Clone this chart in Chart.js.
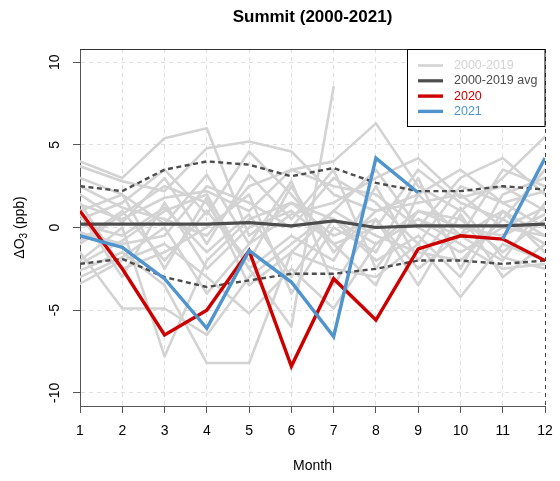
<!DOCTYPE html>
<html>
<head>
<meta charset="utf-8">
<script src="https://cdn.jsdelivr.net/npm/chart.js@4.4.0/dist/chart.umd.min.js"></script>
<style>
  html, body { margin: 0; padding: 0; background: #fff; }
  canvas { display: block; }
</style>
</head>
<body>
<canvas id="ozone" width="560" height="481"></canvas>
<script>
// months on the x axis
var months = [1, 2, 3, 4, 5, 6, 7, 8, 9, 10, 11, 12];
var yTicks = [-10, -5, 0, 5, 10];

// 2000-2019 climatology
var avgValues   = [0.2, 0.2, 0.2, 0.2, 0.3, 0.1, 0.4, 0.0, 0.1, 0.1, 0.1, 0.2];
var upperValues = [2.5, 2.2, 3.5, 4.0, 3.8, 3.1, 3.6, 2.7, 2.2, 2.2, 2.5, 2.3];
var lowerValues = [-2.2, -1.9, -3.0, -3.6, -3.2, -2.8, -2.8, -2.5, -2.0, -2.0, -2.2, -2.0];

// recent years
var values2020 = [1.0, -2.5, -6.5, -5.0, -1.4, -8.4, -3.1, -5.6, -1.3, -0.5, -0.7, -2.0];
var values2021 = [-0.5, -1.2, -3.1, -6.1, -1.4, -3.3, -6.6, 4.2, 2.1, null, -0.7, 4.2];

// individual years 2000-2019
var pastYears = [2000, 2001, 2002, 2003, 2004, 2005, 2006, 2007, 2008, 2009,
                 2010, 2011, 2012, 2013, 2014, 2015, 2016, 2017, 2018, 2019];
var pastValues = [
    [4.0, 3.0, 5.4, 6.0, -0.5, 1.5, 0.5, -1.0, 1.0, 0.5, -1.5, 0.5],
    [3.7, 2.8, 2.2, 4.8, 5.2, 4.6, 2.0, 1.0, 1.5, 2.0, 0.0, 1.2],
    [1.4, 0.5, 1.8, 2.2, 1.0, 3.5, 4.0, 6.3, 2.5, 1.0, 3.0, 5.5],
    [0.5, 1.5, 3.5, 0.8, 4.6, 2.0, -1.0, 0.0, 3.5, 1.5, 0.5, 3.5],
    [-0.3, -1.0, -0.5, 2.5, 1.5, 0.0, 3.0, 1.5, -1.0, 2.5, 1.5, 0.0],
    [-1.0, 0.8, 2.5, 1.5, -2.5, -6.0, 8.5, null, 0.5, -0.5, 1.0, -0.5],
    [-1.5, -4.9, -4.9, -6.5, -3.0, -1.0, 1.0, -0.5, -1.5, -2.0, 0.5, -1.0],
    [-2.0, 0.0, -7.8, -2.0, 0.5, 1.5, -0.5, 0.5, -2.5, -0.5, -2.0, 1.5],
    [-2.6, -1.5, -3.5, -8.2, -8.2, -1.5, -2.5, -3.0, -1.0, -4.2, -1.0, -2.0],
    [-3.4, -2.0, -1.0, -3.0, -5.2, -2.5, -4.9, -1.0, 0.5, -1.0, -2.5, -2.2],
    [2.5, 1.2, 0.5, -0.5, 2.5, 3.5, 2.5, 2.0, 0.0, 3.0, 4.2, 2.0],
    [1.0, 2.0, 0.2, 3.2, -1.0, 0.8, 1.5, 3.0, 4.2, 1.8, 2.5, 1.0],
    [0.2, -0.5, 1.2, -1.5, 0.8, -3.0, 0.5, -2.0, -0.5, -3.0, 1.0, -1.5],
    [-0.8, 1.0, -2.0, 1.0, -2.0, 2.5, -1.5, 1.0, 2.0, -0.5, 3.5, 2.5],
    [2.0, 0.3, 3.0, -1.0, 3.2, 0.5, 3.5, -2.5, 1.0, 0.0, -0.5, 0.8],
    [-2.2, -0.8, 1.0, 2.0, -2.5, -0.5, -2.0, 2.5, -2.0, 1.2, -1.8, -2.5],
    [1.5, -2.5, -1.5, 0.0, 2.0, -4.0, 0.0, -1.5, 3.0, -2.5, 2.0, 3.0],
    [-3.0, -1.8, 0.0, -4.0, -1.0, 2.8, -3.5, 0.5, -3.5, 0.8, -3.0, -1.0],
    [3.0, 2.0, -2.5, 1.8, -3.5, -1.5, 1.0, 3.5, 0.0, -1.5, 0.0, -0.5],
    [0.8, -3.0, 1.5, -2.5, 0.0, 1.0, -1.0, -3.5, 2.0, 3.5, 1.5, 2.2]
];

var FONT = '"Liberation Sans", Arial, Helvetica, sans-serif';
var GRAY = '#d3d3d3';
var DARK = '#4d4d4d';
var RED = '#cd0000';
var BLUE = '#4f94cd';

Chart.defaults.font.family = FONT;

function toPoints(values) {
    return values.map(function (v, i) { return { x: months[i], y: v }; });
}

var datasets = [];

pastValues.forEach(function (vals, i) {
    datasets.push({
        label: String(pastYears[i]),
        legendText: i === 0 ? '2000-2019' : null,
        data: toPoints(vals),
        borderColor: GRAY,
        borderWidth: 2.6,
        borderCapStyle: 'round',
        borderJoinStyle: 'round',
        order: 5
    });
});

datasets.push({
    label: 'avg + sd',
    data: toPoints(upperValues),
    borderColor: DARK,
    borderWidth: 2.4,
    borderDash: [5, 3.5],
    order: 4
});
datasets.push({
    label: 'avg - sd',
    data: toPoints(lowerValues),
    borderColor: DARK,
    borderWidth: 2.4,
    borderDash: [5, 3.5],
    order: 4
});
datasets.push({
    label: '2000-2019 avg',
    legendText: '2000-2019 avg',
    data: toPoints(avgValues),
    borderColor: DARK,
    borderWidth: 3.2,
    order: 3
});
datasets.push({
    label: '2020',
    legendText: '2020',
    data: toPoints(values2020),
    borderColor: RED,
    borderWidth: 3.4,
    borderJoinStyle: 'miter',
    order: 2
});
datasets.push({
    label: '2021',
    legendText: '2021',
    data: toPoints(values2021),
    borderColor: BLUE,
    borderWidth: 3.4,
    borderJoinStyle: 'miter',
    order: 1
});

// title, axis titles, box top edge and the legend
var decorations = {
    id: 'decorations',
    afterDraw: function (chart) {
        var ctx = chart.ctx;
        var area = chart.chartArea;
        ctx.save();

        // top edge of the plot box
        ctx.strokeStyle = '#333';
        ctx.lineWidth = 1;
        ctx.beginPath();
        ctx.moveTo(area.left, area.top + 0.5);
        ctx.lineTo(area.right, area.top + 0.5);
        ctx.stroke();

        // main title
        ctx.fillStyle = '#000';
        ctx.textAlign = 'center';
        ctx.textBaseline = 'middle';
        ctx.font = 'bold 17px ' + FONT;
        ctx.fillText('Summit (2000-2021)', (area.left + area.right) / 2, 17);

        // x axis title
        ctx.font = '14px ' + FONT;
        ctx.fillText('Month', (area.left + area.right) / 2, 466);

        // y axis title with subscript
        ctx.translate(20, (area.top + area.bottom) / 2);
        ctx.rotate(-Math.PI / 2);
        var parts = [['\u0394O', '14px ' + FONT, 0], ['3', '10px ' + FONT, 4], [' (ppb)', '14px ' + FONT, 0]];
        var total = 0;
        parts.forEach(function (p) { ctx.font = p[1]; total += ctx.measureText(p[0]).width; });
        var px = -total / 2;
        ctx.textAlign = 'left';
        parts.forEach(function (p) {
            ctx.font = p[1];
            ctx.fillText(p[0], px, p[2]);
            px += ctx.measureText(p[0]).width;
        });
        ctx.restore();

        // legend box (top right, inset 0)
        ctx.save();
        var bx = 407.5, by = area.top + 0.5, bw = area.right - 407.5, bh = 77;
        ctx.fillStyle = '#fff';
        ctx.fillRect(bx, by, bw, bh);
        ctx.strokeStyle = '#000';
        ctx.lineWidth = 1;
        ctx.strokeRect(bx, by, bw, bh);

        var entries = chart.data.datasets.filter(function (d) { return d.legendText; });
        ctx.font = '12.5px ' + FONT;
        ctx.textAlign = 'left';
        ctx.textBaseline = 'middle';
        entries.forEach(function (d, i) {
            var y = by + 16 + i * 15.3;
            ctx.strokeStyle = d.borderColor;
            ctx.lineWidth = d.borderWidth;
            ctx.beginPath();
            ctx.moveTo(418, y);
            ctx.lineTo(443, y);
            ctx.stroke();
            ctx.fillStyle = d.borderColor;
            ctx.fillText(d.legendText, 454, y);
        });
        ctx.restore();
    }
};

var gridColor = function (c) {
    return c.tick && c.tick.value === 12 ? '#444' : '#dedede';
};

new Chart(document.getElementById('ozone'), {
    type: 'line',
    data: { datasets: datasets },
    options: {
        responsive: false,
        devicePixelRatio: 1,
        animation: false,
        layout: { padding: { top: 49, right: 15, left: 0, bottom: 0 } },
        elements: { point: { radius: 0 }, line: { tension: 0 } },
        plugins: {
            legend: { display: false },
            title: { display: false },
            tooltip: { enabled: false }
        },
        scales: {
            x: {
                type: 'linear',
                min: 1,
                max: 12,
                afterBuildTicks: function (s) { s.ticks = months.map(function (v) { return { value: v }; }); },
                afterFit: function (s) { s.height = 75; s.paddingLeft = 0; s.paddingRight = 0; },
                ticks: { color: '#000', font: { size: 14 }, padding: 10, maxRotation: 0, autoSkip: false },
                grid: { color: gridColor, lineWidth: 1, tickLength: 7, tickColor: '#555', tickBorderDash: [] },
                border: { display: true, color: '#555', width: 1, dash: [4, 4] }
            },
            y: {
                min: -10.8,
                max: 10.8,
                afterBuildTicks: function (s) { s.ticks = yTicks.map(function (v) { return { value: v }; }); },
                afterFit: function (s) { s.width = 80; s.paddingTop = 0; s.paddingBottom = 0; },
                ticks: { color: '#000', font: { size: 14 }, padding: 8, minRotation: 90, maxRotation: 90, crossAlign: 'center' },
                grid: { color: '#dedede', lineWidth: 1, tickLength: 7, tickColor: '#555', tickBorderDash: [] },
                border: { display: true, color: '#555', width: 1, dash: [4, 4] }
            }
        }
    },
    plugins: [decorations]
});
</script>
</body>
</html>
